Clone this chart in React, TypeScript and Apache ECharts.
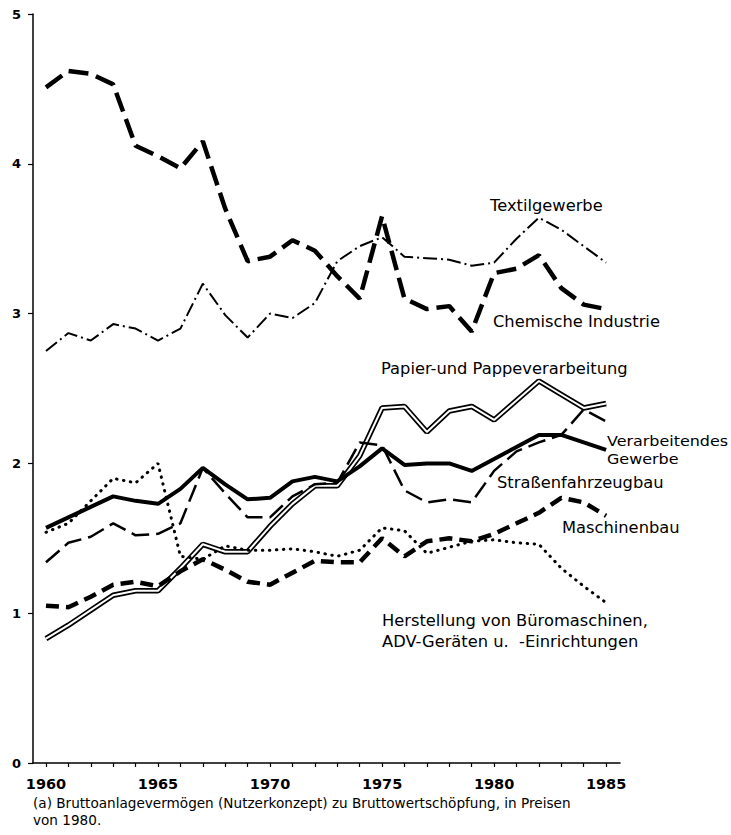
import React, { useEffect, useRef } from "react";
import * as echarts from "echarts";

const years = [1960, 1961, 1962, 1963, 1964, 1965, 1966, 1967, 1968, 1969, 1970, 1971, 1972, 1973, 1974, 1975, 1976, 1977, 1978, 1979, 1980, 1981, 1982, 1983, 1984, 1985];
const labelYears = [1960, 1965, 1970, 1975, 1980, 1985];

const chemische = [4.51, 4.62, 4.60, 4.53, 4.12, 4.05, 3.97, 4.15, 3.70, 3.35, 3.38, 3.49, 3.42, 3.25, 3.10, 3.65, 3.10, 3.03, 3.05, 2.88, 3.27, 3.30, 3.39, 3.17, 3.06, 3.03];
const textil = [2.75, 2.87, 2.82, 2.93, 2.90, 2.82, 2.90, 3.20, 2.99, 2.84, 3.00, 2.97, 3.07, 3.35, 3.45, 3.51, 3.38, 3.37, 3.36, 3.32, 3.34, 3.50, 3.64, 3.56, 3.45, 3.34];
const verarbeitend = [1.57, 1.64, 1.71, 1.78, 1.75, 1.73, 1.83, 1.97, 1.86, 1.76, 1.77, 1.88, 1.91, 1.88, 1.98, 2.10, 1.99, 2.00, 2.00, 1.95, 2.03, 2.11, 2.19, 2.19, 2.14, 2.09];
const strassen = [1.34, 1.47, 1.51, 1.60, 1.52, 1.53, 1.60, 1.97, 1.80, 1.64, 1.64, 1.78, 1.86, 1.87, 2.14, 2.12, 1.82, 1.74, 1.76, 1.74, 1.95, 2.08, 2.14, 2.19, 2.36, 2.28];
const papier = [0.83, 0.92, 1.02, 1.12, 1.15, 1.15, 1.30, 1.46, 1.41, 1.41, 1.58, 1.73, 1.85, 1.85, 2.05, 2.37, 2.38, 2.21, 2.35, 2.38, 2.29, 2.42, 2.55, 2.46, 2.37, 2.40];
const buero = [1.54, 1.60, 1.75, 1.90, 1.87, 2.00, 1.38, 1.36, 1.45, 1.42, 1.42, 1.43, 1.41, 1.38, 1.42, 1.57, 1.55, 1.40, 1.44, 1.48, 1.49, 1.47, 1.46, 1.30, 1.18, 1.07];
const maschinen = [1.05, 1.04, 1.11, 1.19, 1.21, 1.18, 1.28, 1.36, 1.29, 1.21, 1.19, 1.27, 1.35, 1.34, 1.34, 1.50, 1.38, 1.48, 1.50, 1.48, 1.53, 1.60, 1.67, 1.77, 1.74, 1.65];

const FONT = "DejaVu Sans";

function pairs(v: number[]) {
  return years.map((y, i) => [y, v[i]]);
}

function lineSeries(name: string, v: number[], lineStyle: any, z = 2) {
  return {
    name,
    type: "line",
    data: pairs(v),
    showSymbol: false,
    symbol: "none",
    z,
    lineStyle: { color: "#000", ...lineStyle },
  };
}

export default function App() {
  const ref = useRef<HTMLDivElement>(null);
  useEffect(() => {
    const chart = echarts.init(ref.current!, null, { renderer: "svg" });
    const txt = (text: string, x: number, y: number, size = 16.3) => ({
      type: "text",
      x,
      y,
      style: { text, fill: "#000", font: `${size}px "${FONT}"`, textVerticalAlign: "middle" },
    });
    chart.setOption({
      animation: false,
      backgroundColor: "#fff",
      grid: { left: 33, right: 111, top: 14, bottom: 72 },
      xAxis: {
        type: "value",
        min: 1959.42,
        max: 1985.62,
        axisLine: { show: true, lineStyle: { color: "#000", width: 1.5 } },
        axisTick: { show: true, customValues: years, length: 4, lineStyle: { color: "#000", width: 1.2 } },
        axisLabel: {
          customValues: labelYears,
          formatter: (v: number) => String(Math.round(v)),
          color: "#000",
          fontFamily: FONT,
          fontWeight: "bold",
          fontSize: 14.5,
          margin: 13,
        },
        splitLine: { show: false },
      },
      yAxis: {
        type: "value",
        min: 0,
        max: 5,
        interval: 1,
        axisLine: { show: true, lineStyle: { color: "#000", width: 1.5 } },
        axisTick: { show: true, length: 5, lineStyle: { color: "#000", width: 1.2 } },
        axisLabel: {
          color: "#000",
          fontFamily: FONT,
          fontWeight: "bold",
          fontSize: 13,
          margin: 12,
        },
        splitLine: { show: false },
      },
      series: [
        lineSeries("Chemische Industrie", chemische, { width: 4.5, type: [20, 8] }),
        lineSeries("Textilgewerbe", textil, { width: 2, type: [14, 4, 2, 4] }),
        lineSeries("Papier-und Pappeverarbeitung", papier, { width: 5.5 }, 3),
        lineSeries("Papier-und Pappeverarbeitung (innen)", papier, { width: 2, color: "#fff" }, 4),
        lineSeries("Verarbeitendes Gewerbe", verarbeitend, { width: 4 }, 5),
        lineSeries("Straßenfahrzeugbau", strassen, { width: 2.5, type: [18, 7] }, 5),
        lineSeries("Maschinenbau", maschinen, { width: 4.5, type: [13, 7] }, 5),
        lineSeries("Herstellung von Büromaschinen, ADV-Geräten u. -Einrichtungen", buero, { width: 3, type: [0.5, 6.5], cap: "round" }, 5),
      ],
      graphic: [
        txt("Textilgewerbe", 490, 205),
        txt("Chemische Industrie", 493, 321),
        txt("Papier-und Pappeverarbeitung", 381, 368),
        {
          type: "text",
          x: 607,
          y: 433,
          scaleX: 1.1,
          style: {
            text: "Verarbeitendes\nGewerbe",
            fill: "#000",
            font: `14.5px "${FONT}"`,
            lineHeight: 17.5,
            textVerticalAlign: "top",
          },
        },
        txt("Straßenfahrzeugbau", 497, 482),
        txt("Maschinenbau", 562, 527),
        {
          type: "text",
          x: 382,
          y: 610,
          style: {
            text: "Herstellung von Büromaschinen,\nADV-Geräten u.  -Einrichtungen",
            fill: "#000",
            font: `16.3px "${FONT}"`,
            lineHeight: 21,
            textVerticalAlign: "top",
          },
        },
        {
          type: "text",
          x: 33,
          y: 794,
          style: {
            text: "(a) Bruttoanlagevermögen (Nutzerkonzept) zu Bruttowertschöpfung, in Preisen\nvon 1980.",
            fill: "#000",
            font: `13.6px "${FONT}"`,
            lineHeight: 17,
            textVerticalAlign: "top",
          },
        },
      ],
    });
    return () => chart.dispose();
  }, []);
  return (
    <div
      ref={ref}
      style={{ position: "fixed", left: 0, top: 0, width: 731, height: 835, background: "#fff" }}
    />
  );
}
